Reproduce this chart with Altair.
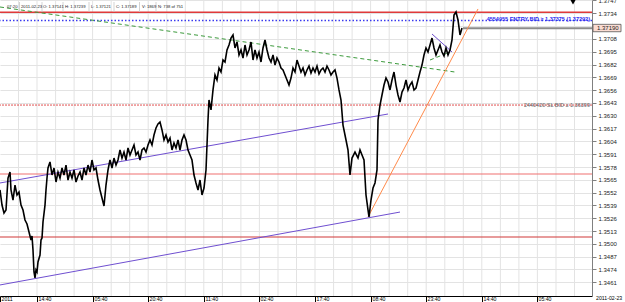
import altair as alt
import pandas as pd

FONT = "Liberation Sans"

# ---- price series (bar position, price) ----
bar = [0, 2, 4, 6, 8, 10, 11, 13, 15, 17, 19, 21, 23, 25, 27, 29, 31, 32, 33, 34, 35, 36, 37, 38, 40,
       41, 42, 43, 45, 46, 47, 48, 50, 52, 54, 56, 58, 60, 62, 64, 66, 68, 70, 72, 74, 76, 78, 80, 82,
       84, 86, 88, 90, 92, 94, 96, 98, 100, 102, 104, 106, 108, 110, 112, 114, 116, 118, 120, 122, 124,
       126, 128, 130, 132, 134, 136, 138, 140, 142, 144, 146, 148, 150, 152, 154, 156, 158, 160, 162,
       164, 166, 168, 170, 172, 174, 176, 178, 180, 182, 184, 186, 188, 190, 192, 194, 196, 198, 200,
       202, 204, 206, 208, 209, 211, 213, 215, 217, 219, 221, 223, 225, 227, 229, 231, 233, 235, 237,
       239, 241, 243, 245, 247, 249, 251, 253, 255, 257, 259, 261, 263, 265, 267, 269, 271, 273, 275,
       277, 279, 281, 283, 285, 287, 289, 291, 293, 295, 297, 299, 301, 303, 305, 307, 309, 311, 313,
       315, 317, 319, 321, 323, 325, 327, 329, 331, 333, 335, 337, 339, 341, 343, 346, 348, 350, 352,
       355, 358, 360, 362, 364, 366, 368, 369, 371, 373, 375, 377, 378, 380, 382, 384, 386, 388, 390,
       392, 394, 396, 398, 400, 402, 404, 406, 408, 410, 412, 414, 416, 418, 420, 422, 424, 426, 428,
       430, 432, 434, 436, 438, 440, 442, 444, 446, 448, 450, 452, 454, 456, 458, 460, 462]
price = [1.35547, 1.35394, 1.35313, 1.35344, 1.35668, 1.35729, 1.35547, 1.35445, 1.35597, 1.35496,
         1.35526, 1.35394, 1.35344, 1.35242, 1.35202, 1.35120, 1.35039, 1.35080, 1.34938, 1.34715,
         1.34654, 1.34735, 1.34715, 1.34816, 1.34887, 1.35039, 1.35060, 1.35222, 1.35394, 1.35547,
         1.35668, 1.35770, 1.35831, 1.35699, 1.35770, 1.35628, 1.35729, 1.35668, 1.35770, 1.35699,
         1.35800, 1.35648, 1.35729, 1.35668, 1.35750, 1.35628, 1.35689, 1.35729, 1.35648, 1.35770,
         1.35699, 1.35800, 1.35729, 1.35851, 1.35750, 1.35770, 1.35648, 1.35547, 1.35466, 1.35384,
         1.35597, 1.35750, 1.35851, 1.35770, 1.35871, 1.35800, 1.35851, 1.35953, 1.35871, 1.35932,
         1.35851, 1.35973, 1.35902, 1.35953, 1.36003, 1.35902, 1.35932, 1.35851, 1.35953, 1.35973,
         1.35932, 1.36003, 1.36054, 1.36003, 1.36105, 1.36176, 1.36217, 1.36237, 1.36156, 1.36054,
         1.36105, 1.36034, 1.36074, 1.35953, 1.36024, 1.35973, 1.36054, 1.35953, 1.36054, 1.36105,
         1.36054, 1.35953, 1.35902, 1.35851, 1.35699, 1.35618, 1.35547, 1.35648, 1.35496, 1.35567,
         1.35750, 1.36257, 1.36460, 1.36359, 1.36562, 1.36714, 1.36663, 1.36785, 1.36744, 1.36866,
         1.36846, 1.36968, 1.37018, 1.37089, 1.37120, 1.36988, 1.37049, 1.36917, 1.36968, 1.36886,
         1.37018, 1.36917, 1.36968, 1.37049, 1.36866, 1.36968, 1.36886, 1.36947, 1.36846, 1.36988,
         1.37069, 1.36968, 1.36886, 1.36846, 1.36917, 1.36815, 1.36886, 1.36846, 1.36785, 1.36765,
         1.36714, 1.36663, 1.36612, 1.36683, 1.36785, 1.36744, 1.36866, 1.36805, 1.36744, 1.36785,
         1.36714, 1.36765, 1.36805, 1.36734, 1.36785, 1.36744, 1.36805, 1.36724, 1.36765, 1.36785,
         1.36744, 1.36805, 1.36765, 1.36714, 1.36744, 1.36765, 1.36683, 1.36562, 1.36460, 1.36206,
         1.36054, 1.35953, 1.35699, 1.35871, 1.35932, 1.35871, 1.35953, 1.35902, 1.35851, 1.35496,
         1.35344, 1.35273, 1.35445, 1.35567, 1.35618, 1.35750, 1.36257, 1.36409, 1.36511, 1.36612,
         1.36683, 1.36643, 1.36562, 1.36663, 1.36744, 1.36612, 1.36511, 1.36440, 1.36541, 1.36582,
         1.36663, 1.36562, 1.36612, 1.36643, 1.36562, 1.36582, 1.36663, 1.36744, 1.36815, 1.36917,
         1.36988, 1.36947, 1.37018, 1.37089, 1.36988, 1.36917, 1.36968, 1.37018, 1.36947, 1.36907,
         1.36988, 1.36917, 1.36968, 1.37069, 1.37323, 1.37353, 1.37272, 1.37120, 1.37191]

# ---- axis ticks / labels ----
y_ticks = [1.3461, 1.3474, 1.3487, 1.3500, 1.3513, 1.3526, 1.3539, 1.3552, 1.3565, 1.3578, 1.3591,
           1.3604, 1.3617, 1.3630, 1.3643, 1.3656, 1.3669, 1.3682, 1.3695, 1.3708, 1.3721, 1.3734,
           1.3747]
y_hidden_label = 1.3721   # covered by the last-price box in the reference
x_ticks = [0, 37, 93, 148, 204, 259, 315, 371, 426, 482, 537]
x_labels = ["2011", "14:40", "05:40", "20:40", "11:40", "02:40", "17:40", "08:40", "23:40",
            "14:40", "05:40"]
x_grid = [18.5, 37, 55.6, 74.1, 92.6, 111.2, 129.7, 148.2, 166.8, 185.3, 203.8, 222.4, 240.9,
          259.4, 278, 296.5, 315, 333.6, 352.1, 370.6, 389.2, 407.7, 426.2, 444.8, 463.3, 481.8,
          500.4, 518.9, 537.4, 556, 574.5]

# ---- horizontal levels ----
top_red = 1.37350
entry_line = 1.37267
last_price = 1.37189
sl_line = 1.36409
red_mid = 1.35709
red_low = 1.35070

# ---- drawn trend lines ----
purple_x1 = [0, 0, 432]
purple_x2 = [400, 388, 452]
purple_p1 = [1.34583, 1.35618, 1.37130]
purple_p2 = [1.35323, 1.36318, 1.36947]
green_x1 = [0, 430]
green_x2 = [455, 450]
green_p1 = [1.37404, 1.36866]
green_p2 = [1.36744, 1.36947]
orange_x1 = [368]
orange_x2 = [478]
orange_p1 = [1.35273]
orange_p2 = [1.37384]

header_text = ["07:20", "2011-02-23", "O: 1.37141", "H: 1.37239", "L: 1.37121", "C: 1.37189",
               "V: 1869", "N: 738 of 751"]
header_pos = [7, 21, 43, 65, 91, 116, 142, 158]
header_sep_pos = [19.5, 42, 63, 89, 114, 139.5, 156]

XS = alt.Scale(domain=[0, 592], nice=False, zero=False)
YS = alt.Scale(domain=[1.34471, 1.37475], nice=False, zero=False)

x_label_expr = " : ".join(
    f"datum.value == {v} ? '{t}'" for v, t in zip(x_ticks, x_labels)) + " : ''"
y_label_expr = f"abs(datum.value - {y_hidden_label}) < 0.00001 ? '' : format(datum.value, '.4f')"

price_df = pd.DataFrame({"bar": bar, "price": price})

# first layer carries the axes (invisible line); other layers leave axis unspecified
axes_layer = alt.Chart(price_df).mark_line(opacity=0).encode(
    x=alt.X("bar:Q", scale=XS, axis=alt.Axis(
        values=x_ticks, tickCount=50, labelExpr=x_label_expr, grid=False, title=None,
        orient="bottom", domainColor="black", domainWidth=1, tickColor="black", tickSize=6,
        labelAlign="left", labelBaseline="top", labelPadding=-6, labelOffset=1, labelFontSize=5.2,
        labelFont=FONT, labelColor="black", labelFlush=False, labelOverlap=False)),
    y=alt.Y("price:Q", scale=YS, axis=alt.Axis(
        orient="right", values=y_ticks, tickCount=50, labelExpr=y_label_expr, title=None,
        grid=True, gridColor="#e3e3e3", domainColor="#808080", tickColor="#808080", tickSize=4,
        labelFontSize=6, labelFont=FONT, labelColor="#222222", labelPadding=2,
        labelOverlap=False, labelFlush=False)),
)

vgrid = alt.Chart(pd.DataFrame({"bar": x_grid})).mark_rule(color="#e3e3e3", strokeWidth=1).encode(
    x=alt.X("bar:Q", scale=XS))


def hline(p, color, width=1.0, dash=None):
    kw = dict(color=color, strokeWidth=width)
    if dash:
        kw["strokeDash"] = dash
    return alt.Chart(pd.DataFrame({"price": [p]})).mark_rule(**kw).encode(
        y=alt.Y("price:Q", scale=YS))


levels = [
    hline(top_red, "#e03a3a", 1.4),
    hline(entry_line, "#3a3af0", 1.4, [1.5, 2]),
    hline(sl_line, "#e05050", 1.0, [2, 1]),
    hline(red_mid, "#f07070", 1.2),
    hline(red_low, "#d03838", 1.2),
]

last_line = alt.Chart(pd.DataFrame({"bar": [463], "bar2": [592], "price": [last_price]})).mark_rule(
    color="#8c8c8c", strokeWidth=2).encode(
    x=alt.X("bar:Q", scale=XS), x2="bar2:Q",
    y=alt.Y("price:Q", scale=YS))


def segs(x1, x2, p1, p2, color, dash=None):
    kw = dict(color=color, strokeWidth=1)
    if dash:
        kw["strokeDash"] = dash
    df = pd.DataFrame({"bar": x1, "bar2": x2, "price": p1, "price2": p2})
    return alt.Chart(df).mark_rule(**kw).encode(
        x=alt.X("bar:Q", scale=XS), x2="bar2:Q",
        y=alt.Y("price:Q", scale=YS), y2="price2:Q")


purple = segs(purple_x1, purple_x2, purple_p1, purple_p2, "#6f4fd0")
green = segs(green_x1, green_x2, green_p1, green_p2, "#3c9a3c", [4, 3])
orange = segs(orange_x1, orange_x2, orange_p1, orange_p2, "#ff8a4a")

price_line = alt.Chart(price_df).mark_line(color="black", strokeWidth=1.6).encode(
    x=alt.X("bar:Q", scale=XS),
    y=alt.Y("price:Q", scale=YS),
)

entry_text = alt.Chart(pd.DataFrame({"price": [1.37287],
                                     "t": ["4554955 ENTRY BID \u2265 1.37375 (1.37292)"]})).mark_text(
    align="right", baseline="middle", font=FONT, fontSize=5.5, fontWeight="bold",
    color="#2a2af0").encode(x=alt.value(590), y=alt.Y("price:Q", scale=YS), text="t:N")

sl_text = alt.Chart(pd.DataFrame({"price": [sl_line],
                                  "t": ["2440420 SL BID \u2265 1.36399"]})).mark_text(
    align="right", baseline="middle", font=FONT, fontSize=5.5,
    color="#666666").encode(x=alt.value(590), y=alt.Y("price:Q", scale=YS), text="t:N")

box = alt.Chart(pd.DataFrame({"price": [1.37228], "price2": [1.37153]})).mark_rect(
    fill="#fbdcd2", stroke="#555555", strokeWidth=0.8).encode(
    x=alt.value(593), x2=alt.value(621),
    y=alt.Y("price:Q", scale=YS), y2="price2:Q")
box_text = alt.Chart(pd.DataFrame({"price": [last_price], "t": ["1.37190"]})).mark_text(
    align="left", baseline="middle", font=FONT, fontSize=6, color="#222222").encode(
    x=alt.value(597), y=alt.Y("price:Q", scale=YS), text="t:N")

marker = alt.Chart(pd.DataFrame({"bar": [573], "price": [1.37458]})).mark_point(
    shape="triangle-down", filled=True, color="black", size=40, opacity=1).encode(
    x=alt.X("bar:Q", scale=XS), y=alt.Y("price:Q", scale=YS))

header = alt.Chart(pd.DataFrame({"t": header_text, "hx": header_pos})).mark_text(
    align="left", baseline="middle", font=FONT, fontSize=4.2, color="#222222").encode(
    x=alt.X("hx:Q", scale=None), y=alt.value(7), text="t:N")

header_sep = alt.Chart(pd.DataFrame({"sx": header_sep_pos})).mark_rule(
    color="#c8c8c8", strokeWidth=0.8).encode(
    x=alt.X("sx:Q", scale=None), y=alt.value(2), y2=alt.value(12))

corner = alt.Chart(pd.DataFrame({"t": ["2011-02-23"]})).mark_text(
    align="left", baseline="top", font=FONT, fontSize=5.2, color="black").encode(
    x=alt.value(596), y=alt.value(296), text="t:N")

chart = alt.layer(
    axes_layer, vgrid, *levels, last_line, purple, green, orange, price_line,
    entry_text, sl_text, box, box_text, marker, header_sep, header, corner,
).properties(
    width=592, height=296,
    autosize=alt.AutoSizeParams(type="none"),
    padding={"left": 0, "top": 0, "right": 33, "bottom": 6},
    background="white",
).configure_view(stroke=None).configure_axis(labelOverlap=False)

chart.save("out.html", embed_options={"renderer": "svg", "actions": False})
